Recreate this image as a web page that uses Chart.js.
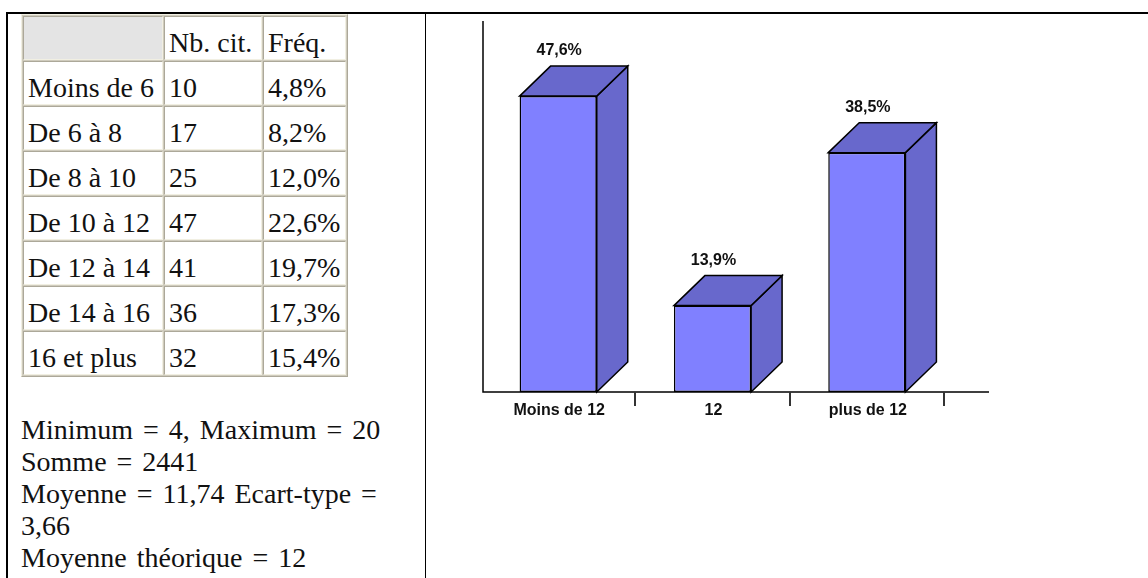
<!DOCTYPE html>
<html>
<head>
<meta charset="utf-8">
<script src="https://cdn.jsdelivr.net/npm/chart.js@4/dist/chart.umd.min.js"></script>
<style>
  html, body { margin: 0; padding: 0; background: #fff; }
  body { width: 1148px; height: 578px; position: relative; overflow: hidden; }
  .bTop { position: absolute; left: 6px; top: 12px; width: 1142px; height: 2px; background: #000; }
  .bLeft { position: absolute; left: 6px; top: 12px; width: 2px; height: 566px; background: #000; }
  .bMid { position: absolute; left: 425px; top: 12px; width: 1px; height: 566px; background: #000; }
  table.freq {
    position: absolute; left: 21px; top: 14px;
    border-collapse: separate; border-spacing: 1px; table-layout: fixed;
    background: #cfcbbd;
    border: 1px solid; border-color: #f1efe2 #aca899 #aca899 #f1efe2;
    font-family: "Liberation Serif", "DejaVu Serif", serif; font-size: 28px; color: #111;
  }
  table.freq td {
    box-sizing: border-box; background: #fff;
    border: 1px solid; border-color: #aca899 #f1efe2 #f1efe2 #aca899;
    padding: 10px 4px 1px 4px; line-height: 31px; height: 44px;
    white-space: nowrap; overflow: hidden; vertical-align: top;
  }
  table.freq td.corner { background: #e4e4e4; }
  .stats {
    position: absolute; left: 21px; top: 414px;
    font-family: "Liberation Serif", "DejaVu Serif", serif; font-size: 28px; line-height: 32px; color: #111;
    white-space: nowrap; word-spacing: 3px;
  }
  #wrap { position: absolute; left: 430px; top: 14px; width: 718px; height: 564px; }
</style>
</head>
<body>
<div class="bTop"></div>
<div class="bLeft"></div>
<div class="bMid"></div>
<table class="freq" id="freqTable">
  <colgroup><col style="width:140px"><col style="width:98px"><col style="width:83px"></colgroup>
  <tbody id="freqBody"></tbody>
</table>
<div class="stats" id="stats"></div>
<div id="wrap"><canvas id="chart" width="718" height="564" style="width:718px;height:564px"></canvas></div>
<script>
// ---- table data ----
const tableHeaders = ['', 'Nb. cit.', 'Fréq.'];
const tableClasses = ['Moins de 6', 'De 6 à 8', 'De 8 à 10', 'De 10 à 12', 'De 12 à 14', 'De 14 à 16', '16 et plus'];
const tableCounts = [10, 17, 25, 47, 41, 36, 32];
const tableFreqs = ['4,8%', '8,2%', '12,0%', '22,6%', '19,7%', '17,3%', '15,4%'];
const statsLines = [
  'Minimum = 4, Maximum = 20',
  'Somme = 2441',
  'Moyenne = 11,74 Ecart-type =',
  '3,66',
  'Moyenne théorique = 12'
];

// ---- chart data ----
const categories = ['Moins de 12', '12', 'plus de 12'];
const percentages = [47.6, 13.9, 38.5];

// build table
const tbody = document.getElementById('freqBody');
function addRow(cells, firstClass) {
  const tr = document.createElement('tr');
  cells.forEach((c, i) => {
    const td = document.createElement('td');
    td.textContent = c;
    if (i === 0 && firstClass) td.className = firstClass;
    tr.appendChild(td);
  });
  tbody.appendChild(tr);
}
addRow(tableHeaders, 'corner');
tableClasses.forEach((c, i) => addRow([c, String(tableCounts[i]), tableFreqs[i]]));
const statsEl = document.getElementById('stats');
statsLines.forEach((s, i) => {
  if (i) statsEl.appendChild(document.createElement('br'));
  statsEl.appendChild(document.createTextNode(s));
});

const FRONT = '#8080ff';
const SIDE = '#6868cc';
const DX = 31, DY = 30;

function fmt(v) { return v.toFixed(1).replace('.', ',') + '%'; }

const bar3d = {
  id: 'bar3d',
  beforeDatasetsDraw(chart) {
    const { ctx, chartArea, scales } = chart;
    const xs = scales.x, ys = scales.y;
    const y0 = ys.getPixelForValue(0);
    ctx.save();
    // axes
    ctx.strokeStyle = '#000';
    ctx.lineWidth = 1.5;
    ctx.beginPath();
    ctx.moveTo(chartArea.left + 2, chartArea.top + 2);
    ctx.lineTo(chartArea.left + 2, y0);
    ctx.lineTo(chartArea.right + 45, y0);
    ctx.stroke();
    // ticks at category boundaries
    const n = categories.length;
    const step = (chartArea.right - chartArea.left) / n;
    ctx.strokeStyle = '#333';
    ctx.lineWidth = 2;
    for (let i = 0; i < n; i++) {
      const bx = Math.round(xs.getPixelForValue(i) + step / 2);
      ctx.beginPath();
      ctx.moveTo(bx, y0);
      ctx.lineTo(bx, y0 + 14);
      ctx.stroke();
    }
    // 3D faces
    const meta = chart.getDatasetMeta(0);
    ctx.lineWidth = 1.5;
    ctx.strokeStyle = '#000';
    ctx.lineJoin = 'miter';
    meta.data.forEach(el => {
      const p = el.getProps(['x', 'y', 'base', 'width'], true);
      const l = p.x - p.width / 2, r = p.x + p.width / 2, t = p.y, b = p.base;
      ctx.fillStyle = SIDE;
      ctx.beginPath();
      ctx.moveTo(r, t); ctx.lineTo(r + DX, t - DY); ctx.lineTo(r + DX, b - DY); ctx.lineTo(r, b); ctx.closePath();
      ctx.fill(); ctx.stroke();
      ctx.beginPath();
      ctx.moveTo(l, t); ctx.lineTo(l + DX, t - DY); ctx.lineTo(r + DX, t - DY); ctx.lineTo(r, t); ctx.closePath();
      ctx.fill(); ctx.stroke();
    });
    ctx.restore();
  },
  afterDatasetsDraw(chart) {
    const { ctx, scales } = chart;
    const y0 = scales.y.getPixelForValue(0);
    const meta = chart.getDatasetMeta(0);
    ctx.save();
    ctx.fillStyle = '#111';
    ctx.font = 'bold 16px "Liberation Sans", Arial, sans-serif';
    ctx.textAlign = 'center';
    ctx.textBaseline = 'alphabetic';
    meta.data.forEach((el, i) => {
      const p = el.getProps(['x', 'y'], true);
      ctx.fillText(fmt(percentages[i]), p.x + 1, p.y - DY - 11);
      ctx.fillText(categories[i], p.x + 1, y0 + 23);
    });
    ctx.restore();
  }
};

new Chart(document.getElementById('chart'), {
  type: 'bar',
  data: {
    labels: categories,
    datasets: [{
      data: percentages,
      backgroundColor: FRONT,
      borderColor: '#000',
      borderWidth: 1.5,
      borderSkipped: false,
      categoryPercentage: 1,
      barPercentage: 0.5
    }]
  },
  options: {
    responsive: false,
    animation: false,
    events: [],
    layout: { padding: { left: 51, right: 204, top: 5, bottom: 186 } },
    plugins: { legend: { display: false }, tooltip: { enabled: false } },
    scales: {
      x: { display: false, offset: true },
      y: { display: false, min: 0, max: 60 }
    }
  },
  plugins: [bar3d]
});
</script>
</body>
</html>
